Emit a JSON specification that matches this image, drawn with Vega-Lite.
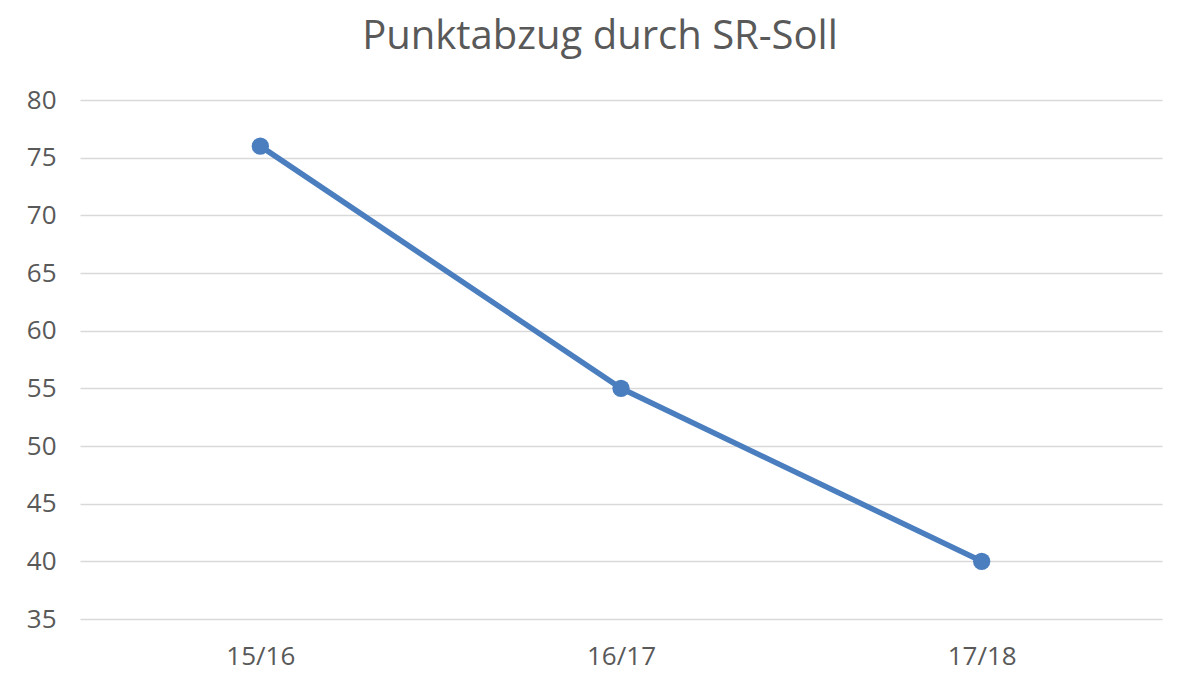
{
  "$schema": "https://vega.github.io/schema/vega-lite/v6.json",
  "autosize": {"type": "none"},
  "width": 1082,
  "height": 519,
  "padding": {"left": 80, "top": 100, "right": 38, "bottom": 56},
  "background": "white",
  "title": {
    "text": "Punktabzug durch SR-Soll",
    "font": "Open Sans",
    "fontSize": 40,
    "fontWeight": "normal",
    "color": "#595959",
    "anchor": "middle",
    "dx": -21,
    "offset": 30
  },
  "data": {
    "values": [
      {"saison": "15/16", "punkte": 76},
      {"saison": "16/17", "punkte": 55},
      {"saison": "17/18", "punkte": 40}
    ]
  },
  "encoding": {
    "x": {
      "field": "saison",
      "type": "ordinal",
      "sort": null,
      "scale": {"paddingInner": 0, "paddingOuter": 0},
      "axis": {
        "title": null,
        "domain": false,
        "ticks": false,
        "labelAngle": 0,
        "labelFont": "Open Sans",
        "labelFontSize": 26,
        "labelColor": "#595959",
        "labelPadding": 24
      }
    },
    "y": {
      "field": "punkte",
      "type": "quantitative",
      "scale": {"domain": [35, 80], "nice": false, "zero": false},
      "axis": {
        "title": null,
        "domain": false,
        "ticks": false,
        "values": [35, 40, 45, 50, 55, 60, 65, 70, 75, 80],
        "labelFont": "Open Sans",
        "labelFontSize": 26,
        "labelColor": "#595959",
        "labelPadding": 24,
        "grid": true,
        "gridColor": "#d9d9d9",
        "gridWidth": 1.3
      }
    }
  },
  "layer": [
    {
      "mark": {"type": "line", "color": "#4a7ebf", "strokeWidth": 5.5}
    },
    {
      "mark": {"type": "point", "filled": true, "color": "#4a7ebf", "size": 300, "opacity": 1}
    }
  ],
  "config": {"view": {"stroke": null}}
}
